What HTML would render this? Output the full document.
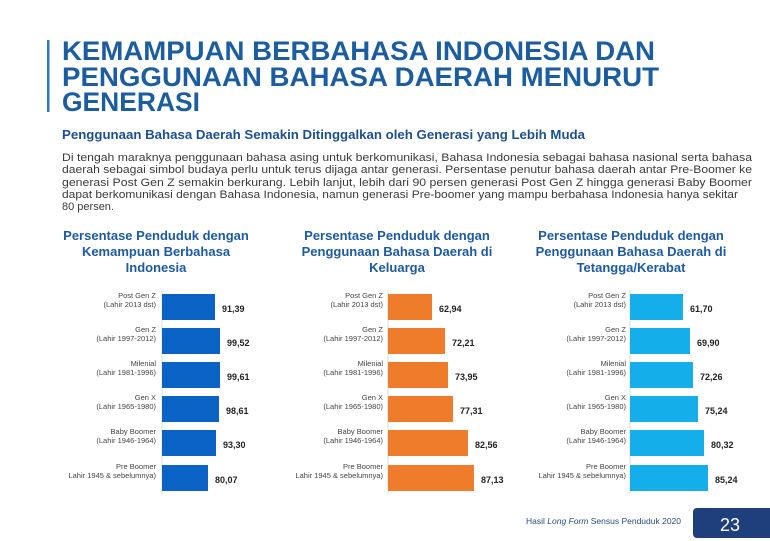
<!DOCTYPE html>
<html><head><meta charset="utf-8"><style>body{margin:0;background:#fff}svg{display:block}</style></head>
<body>
<svg width="770" height="541" viewBox="0 0 770 541" xmlns="http://www.w3.org/2000/svg" font-family="Liberation Sans, sans-serif">
<rect width="770" height="541" fill="#fff"/>
<rect x="47" y="40" width="2.5" height="72" fill="#2a7bc0"/>
<g fill="#1c5d9f" font-weight="bold" font-size="27">
<text x="62" y="60" textLength="593" lengthAdjust="spacingAndGlyphs">KEMAMPUAN BERBAHASA INDONESIA DAN</text>
<text x="62" y="86" textLength="597" lengthAdjust="spacingAndGlyphs">PENGGUNAAN BAHASA DAERAH MENURUT</text>
<text x="62" y="111" textLength="138" lengthAdjust="spacingAndGlyphs">GENERASI</text>
</g>
<text x="62" y="139" fill="#1d4f8c" font-weight="bold" font-size="13" textLength="523" lengthAdjust="spacingAndGlyphs">Penggunaan Bahasa Daerah Semakin Ditinggalkan oleh Generasi yang Lebih Muda</text>
<g fill="#3a3a3a" font-size="11">
<text x="62" y="161" textLength="690" lengthAdjust="spacingAndGlyphs">Di tengah maraknya penggunaan bahasa asing untuk berkomunikasi, Bahasa Indonesia sebagai bahasa nasional serta bahasa</text>
<text x="62" y="173" textLength="690" lengthAdjust="spacingAndGlyphs">daerah sebagai simbol budaya perlu untuk terus dijaga antar generasi. Persentase penutur bahasa daerah antar Pre-Boomer ke</text>
<text x="62" y="186" textLength="690" lengthAdjust="spacingAndGlyphs">generasi Post Gen Z semakin berkurang. Lebih lanjut, lebih dari 90 persen generasi Post Gen Z hingga generasi Baby Boomer</text>
<text x="62" y="198" textLength="676" lengthAdjust="spacingAndGlyphs">dapat berkomunikasi dengan Bahasa Indonesia, namun generasi Pre-boomer yang mampu berbahasa Indonesia hanya sekitar</text>
<text x="62" y="210">80 persen.</text>
</g>
<g fill="#1e5aa0" font-weight="bold" font-size="13" text-anchor="middle">
<text x="156" y="240">Persentase Penduduk dengan</text>
<text x="156" y="256">Kemampuan Berbahasa</text>
<text x="156" y="272">Indonesia</text>
<text x="397" y="240">Persentase Penduduk dengan</text>
<text x="397" y="256">Penggunaan Bahasa Daerah di</text>
<text x="397" y="272">Keluarga</text>
<text x="631" y="240">Persentase Penduduk dengan</text>
<text x="631" y="256">Penggunaan Bahasa Daerah di</text>
<text x="631" y="272">Tetangga/Kerabat</text>
</g>
<!-- chart 1 -->
<g font-size="7.5" fill="#444" text-anchor="end">
<g id="labels1">
<text x="156" y="298">Post Gen Z</text><text x="156" y="307">(Lahir 2013 dst)</text>
<text x="156" y="332">Gen Z</text><text x="156" y="341">(Lahir 1997-2012)</text>
<text x="156" y="366">Milenial</text><text x="156" y="375">(Lahir 1981-1996)</text>
<text x="156" y="400">Gen X</text><text x="156" y="409">(Lahir 1965-1980)</text>
<text x="156" y="434">Baby Boomer</text><text x="156" y="443">(Lahir 1946-1964)</text>
<text x="156" y="469">Pre Boomer</text><text x="156" y="478">Lahir 1945 &amp; sebelumnya)</text>
</g>
<use href="#labels1" x="227"/>
<use href="#labels1" x="470"/>
</g>
<g stroke="#ddd" stroke-width="1"><line x1="162" y1="290" x2="162" y2="494"/><line x1="388" y1="290" x2="388" y2="494"/><line x1="630" y1="290" x2="630" y2="494"/></g>
<g fill="#0b63c6">
<rect x="162" y="294" width="53" height="26"/><rect x="162" y="328" width="58" height="26"/><rect x="162" y="362" width="58" height="26"/><rect x="162" y="396" width="57" height="26"/><rect x="162" y="430" width="54" height="26"/><rect x="162" y="465" width="46" height="26"/>
</g>
<g fill="#ef7c2b">
<rect x="388" y="294" width="44" height="26"/><rect x="388" y="328" width="57" height="26"/><rect x="388" y="362" width="60" height="26"/><rect x="388" y="396" width="65" height="26"/><rect x="388" y="430" width="80" height="26"/><rect x="388" y="465" width="86" height="26"/>
</g>
<g fill="#14aeea">
<rect x="630" y="294" width="53" height="26"/><rect x="630" y="328" width="60" height="26"/><rect x="630" y="362" width="63" height="26"/><rect x="630" y="396" width="68" height="26"/><rect x="630" y="430" width="74" height="26"/><rect x="630" y="465" width="78" height="26"/>
</g>
<g font-size="9" font-weight="bold" fill="#222">
<text x="222" y="312">91,39</text><text x="227" y="346">99,52</text><text x="227" y="380">99,61</text><text x="226" y="414">98,61</text><text x="223" y="448">93,30</text><text x="215" y="483">80,07</text>
<text x="439" y="312">62,94</text><text x="452" y="346">72,21</text><text x="455" y="380">73,95</text><text x="460" y="414">77,31</text><text x="475" y="448">82,56</text><text x="481" y="483">87,13</text>
<text x="690" y="312">61,70</text><text x="697" y="346">69,90</text><text x="700" y="380">72,26</text><text x="705" y="414">75,24</text><text x="711" y="448">80,32</text><text x="715" y="483">85,24</text>
</g>
<text x="526" y="524" font-size="8.5" fill="#2a4a7a">Hasil <tspan font-style="italic">Long Form</tspan> Sensus Penduduk 2020</text>
<rect x="693" y="508" width="90" height="30" rx="4" fill="#1f3e7c"/>
<text x="730" y="531" font-size="18" fill="#fff" text-anchor="middle">23</text>
</svg>
</body></html>
